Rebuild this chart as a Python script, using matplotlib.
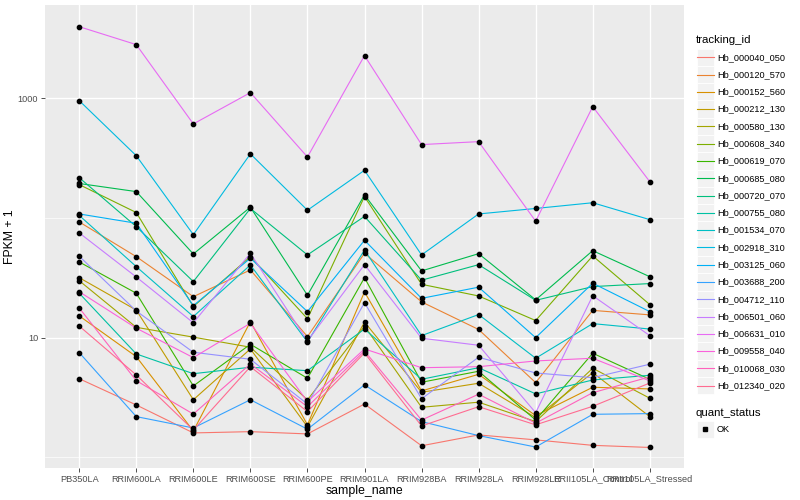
import matplotlib
matplotlib.use("Agg")
import matplotlib.pyplot as plt
from matplotlib.lines import Line2D
from matplotlib.patches import Rectangle

plt.rcParams['font.family'] = ['Liberation Sans', 'DejaVu Sans']

# 样本名 (x 轴)
samples = ['PB350LA', 'RRIM600LA', 'RRIM600LE', 'RRIM600SE', 'RRIM600PE', 'RRIM901LA',
           'RRIM928BA', 'RRIM928LA', 'RRIM928LE', 'RRII105LA_Control', 'RRII105LA_Stressed']

tracking_ids = ['Hb_000040_050', 'Hb_000120_570', 'Hb_000152_560', 'Hb_000212_130',
                'Hb_000580_130', 'Hb_000608_340', 'Hb_000619_070', 'Hb_000685_080',
                'Hb_000720_070', 'Hb_000755_080', 'Hb_001534_070', 'Hb_002918_310',
                'Hb_003125_060', 'Hb_003688_200', 'Hb_004712_110', 'Hb_006501_060',
                'Hb_006631_010', 'Hb_009558_040', 'Hb_010068_030', 'Hb_012340_020']

# ggplot 默认色
colors = ['#F8766D', '#EA8331', '#D89000', '#C09B00', '#A3A500', '#7CAE00', '#39B600',
          '#00BB4E', '#00BF7D', '#00C1A3', '#00BFC4', '#00BAE0', '#00B0F6', '#35A2FF',
          '#9590FF', '#C77CFF', '#E76BF3', '#FA62DB', '#FF62BC', '#FF6C91']

# FPKM + 1, 每个基因一行
hb_000040_050 = [4.54, 2.74, 1.60, 1.64, 1.57, 2.79, 1.25, 1.54, 1.40, 1.26, 1.21]
hb_000120_570 = [92.6, 47.5, 22.0, 36.8, 10.2, 50.7, 19.9, 11.7, 4.21, 16.9, 15.5]
hb_000152_560 = [15.2, 6.94, 1.66, 13.6, 1.87, 24.1, 3.59, 4.94, 2.23, 3.85, 3.73]
hb_000212_130 = [31.7, 17.0, 3.03, 8.05, 1.80, 13.5, 3.50, 4.16, 2.15, 5.10, 2.19]
hb_000580_130 = [29.9, 12.2, 10.1, 8.32, 3.02, 12.5, 2.62, 2.89, 1.99, 5.55, 3.12]
hb_000608_340 = [190, 111, 18.2, 47.5, 14.4, 151, 27.9, 22.3, 13.9, 48.2, 18.9]
hb_000619_070 = [42.9, 23.5, 3.95, 8.81, 4.58, 31.7, 4.24, 5.24, 2.05, 7.41, 4.49]
hb_000685_080 = [194, 166, 50.0, 123, 22.6, 156, 36.1, 50.3, 20.7, 53.3, 32.3]
hb_000720_070 = [217, 84.6, 29.4, 120, 49.1, 103, 30.2, 40.7, 20.5, 26.7, 28.3]
hb_000755_080 = [23.5, 7.31, 5.00, 5.66, 5.30, 11.8, 4.49, 5.61, 3.39, 4.43, 4.85]
hb_001534_070 = [105, 39.2, 15.0, 40.5, 9.2, 54.0, 10.4, 15.6, 6.73, 13.1, 11.8]
hb_002918_310 = [955, 331, 72.5, 343, 116, 250, 49.1, 108, 120, 134, 96.8]
hb_003125_060 = [108, 90.3, 18.5, 46.1, 16.5, 65.1, 21.3, 26.4, 10.0, 28.5, 16.5]
hb_003688_200 = [7.50, 2.19, 1.76, 3.03, 1.72, 4.03, 1.99, 1.52, 1.22, 2.29, 2.32]
hb_004712_110 = [47.9, 16.7, 7.55, 6.60, 2.79, 19.6, 3.09, 6.86, 5.07, 4.63, 6.00]
hb_006501_060 = [75.0, 32.1, 13.3, 50.7, 9.38, 40.7, 9.89, 8.64, 2.36, 22.4, 10.4]
hb_006631_010 = [3960, 2805, 610, 1114, 323, 2270, 410, 434, 93.9, 851, 201]
hb_009558_040 = [24.2, 12.0, 6.81, 13.2, 2.92, 8.05, 5.61, 5.72, 6.39, 6.73, 4.35]
hb_010068_030 = [17.7, 4.37, 2.30, 6.03, 2.65, 7.74, 2.05, 3.37, 1.93, 3.47, 4.70]
hb_012340_020 = [12.5, 4.88, 1.69, 5.72, 2.41, 7.45, 1.83, 2.65, 1.87, 2.67, 4.18]

series = [hb_000040_050, hb_000120_570, hb_000152_560, hb_000212_130, hb_000580_130,
          hb_000608_340, hb_000619_070, hb_000685_080, hb_000720_070, hb_000755_080,
          hb_001534_070, hb_002918_310, hb_003125_060, hb_003688_200, hb_004712_110,
          hb_006501_060, hb_006631_010, hb_009558_040, hb_010068_030, hb_012340_020]

W, H = 800, 500
fig = plt.figure(figsize=(8, 5), dpi=100)
ax = fig.add_axes([45 / W, 1 - 468 / H, (684 - 45) / W, (468 - 5) / H])

x = list(range(len(samples)))
for vals, c in zip(series, colors):
    ax.plot(x, vals, color=c, lw=0.8, zorder=2)
for vals in series:
    ax.plot(x, vals, 'o', color='black', ms=3.1, zorder=3)

ax.set_yscale('log')
ax.set_ylim(0.815, 6010)
ax.set_xlim(-0.6, len(samples) - 0.4)
ax.set_yticks([10, 1000])
ax.set_yticklabels(['10', '1000'])
ax.set_yticks([1, 100], minor=True)
ax.yaxis.set_minor_formatter(plt.NullFormatter())
ax.set_xticks(x)
ax.set_xticklabels(samples)

ax.set_facecolor('#EBEBEB')
for s in ax.spines.values():
    s.set_visible(False)
ax.grid(True, which='major', color='white', lw=1.0)
ax.grid(True, which='minor', axis='y', color='white', lw=0.5)
ax.set_axisbelow(True)
ax.tick_params(which='major', length=2.8, width=0.6, color='#333333', labelsize=6.6,
               labelcolor='#4D4D4D', pad=2)
ax.tick_params(which='minor', length=0)

ax.set_xlabel('sample_name', fontsize=8.8, labelpad=1)
ax.set_ylabel('FPKM + 1', fontsize=8.8, labelpad=1)


# 图例: 手画, 仿 ggplot 的灰底方块
def fx(px):
    return px / W


def fy(py):
    return 1 - py / H


key_x, key_w, pitch = 697, 16.5, 17.28
fig.text(fx(696), fy(40), 'tracking_id', fontsize=8.2, va='center', ha='left')
for i, (name, c) in enumerate(zip(tracking_ids, colors)):
    yc = 57.3 + i * pitch
    fig.add_artist(Rectangle((fx(key_x), fy(yc + pitch / 2)), key_w / W, pitch / H,
                             transform=fig.transFigure, facecolor='#F2F2F2',
                             edgecolor='white', lw=0.6))
    fig.add_artist(Line2D([fx(key_x), fx(key_x + key_w)], [fy(yc), fy(yc)],
                          transform=fig.transFigure, color=c, lw=0.8))
    fig.text(fx(717), fy(yc), name, fontsize=6.6, va='center', ha='left')

fig.text(fx(696), fy(412.7), 'quant_status', fontsize=8.2, va='center', ha='left')
yc = 429.3
fig.add_artist(Rectangle((fx(key_x), fy(yc + pitch / 2)), key_w / W, pitch / H,
                         transform=fig.transFigure, facecolor='#F2F2F2',
                         edgecolor='white', lw=0.6))
fig.add_artist(Line2D([fx(key_x + key_w / 2)], [fy(yc)], transform=fig.transFigure,
                      marker='s', ms=2.6, color='black', ls='none'))
fig.text(fx(717), fy(yc), 'OK', fontsize=6.6, va='center', ha='left')

fig.savefig('out.png', dpi=100)
